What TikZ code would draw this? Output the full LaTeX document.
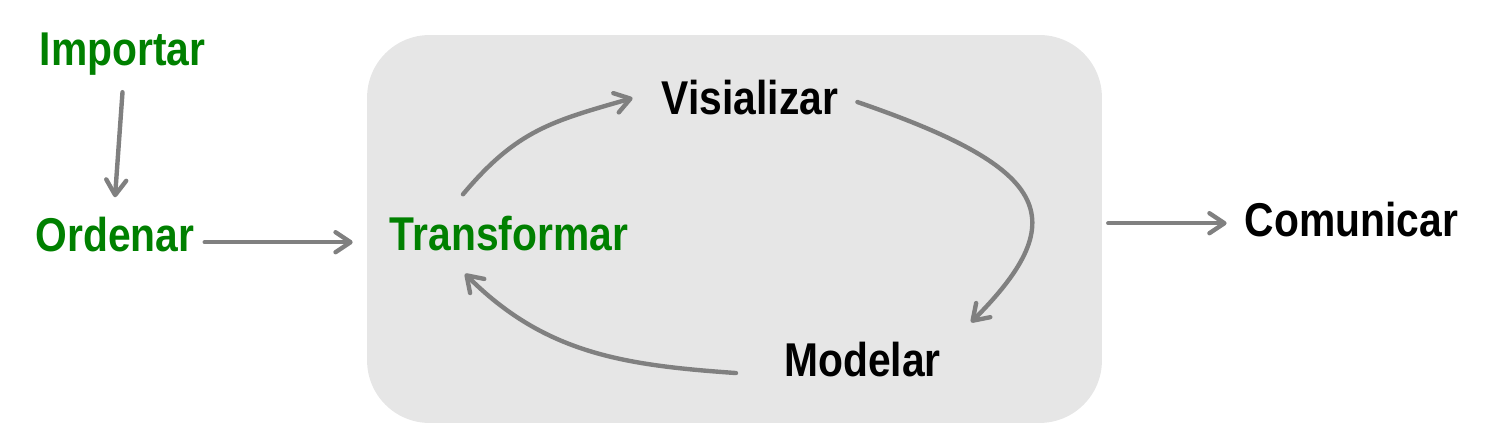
\documentclass[tikz,border=0pt]{standalone}
\usepackage{fontspec}
\newfontfamily\stagefont{Liberation Sans}[FakeStretch=0.86]
\usetikzlibrary{arrows.meta}
\definecolor{stagegreen}{HTML}{008000}
\definecolor{arrowgray}{HTML}{808080}
\definecolor{cyclegray}{HTML}{E6E6E6}

\begin{document}
\begin{tikzpicture}[x=0.02cm, y=0.02cm,
    stage/.style={font=\fontsize{27}{32}\selectfont\stagefont\bfseries, inner sep=0.2cm, anchor=base},
    cyclebox/.style={fill=cyclegray, rounded corners=1.25cm, minimum width=14.7cm, minimum height=7.76cm},
    conn/.style={draw=arrowgray, line width=2.5pt, line cap=round, -{Straight Barb[length=0.3cm, width=0.4cm, round]}}
]
    \useasboundingbox (0,0) rectangle (1496,442);

    \node[cyclebox] (ciclo) at (734.5,213) {};

    \node[stage, text=stagegreen] (imp) at (122.5,376) {Importar};
    \node[stage, text=stagegreen] (ord) at (115,190) {Ordenar};
    \node[stage, text=stagegreen] (trans) at (509,191) {Transformar};
    \node[stage] (vis) at (750,327) {Visializar};
    \node[stage] (modl) at (862.5,65) {Modelar};
    \node[stage] (com) at (1351.5,205) {Comunicar};

    \draw[conn] ([yshift=-0.12cm]imp.south) -- ([yshift=0.2cm]ord.north);
    \draw[conn, shorten >=0.28cm] ([yshift=0.12cm]ord.mid east) -- ([yshift=0.12cm]ord.mid east -| ciclo.west);
    \draw[conn, shorten <=0.12cm, shorten >=0.16cm] ([yshift=0.2cm]ciclo.east |- com.mid west) -- ([yshift=0.2cm]com.mid west);

    % the cycle inside the box
    \draw[conn] ([xshift=-0.92cm, yshift=0.24cm]trans.north) to[out=50, in=196, looseness=1.1] ([xshift=-0.38cm]vis.west);
    \draw[conn] ([xshift=0.18cm, yshift=-0.08cm]vis.east) .. controls +(-19:4cm) and +(45:3cm) .. ([xshift=0.4cm, yshift=0.2cm]modl.north east);
    \draw[conn] ([xshift=-0.76cm, yshift=-0.26cm]modl.west) to[out=176, in=-45] ([xshift=-0.88cm, yshift=-0.24cm]trans.south);
\end{tikzpicture}
\end{document}
